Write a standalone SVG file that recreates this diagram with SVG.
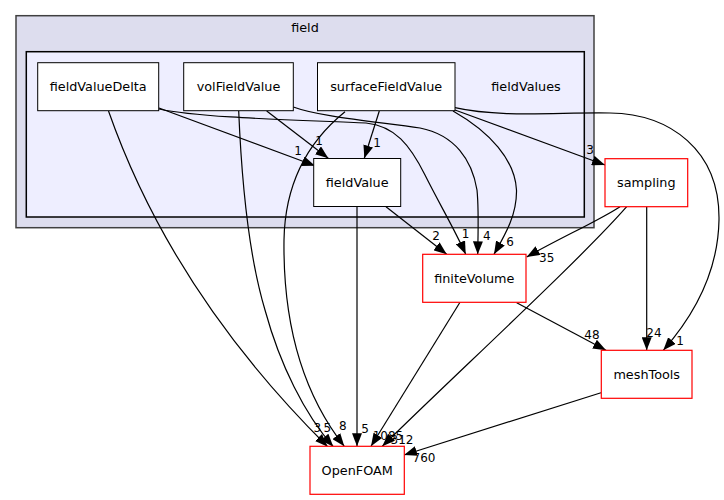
<svg xmlns="http://www.w3.org/2000/svg" width="724" height="500" viewBox="0 0 724 500">
<style>
  text { font-family: "DejaVu Sans", "Liberation Sans", sans-serif; fill: #000; }
  .nl { font-size: 12.8px; text-anchor: middle; }
  .el { font-size: 12px; text-anchor: middle; }
  .n { fill: #fff; stroke: #000; stroke-width: 1; }
  .r { fill: #fff; stroke: #ff0000; stroke-width: 1.2; }
  .e { fill: none; stroke: #000; stroke-width: 1.2; marker-end: url(#ah); }
</style>
<defs>
  <marker id="ah" markerUnits="userSpaceOnUse" markerWidth="13" markerHeight="10" refX="13" refY="5" orient="auto">
    <path d="M0,0 L13,5 L0,10 z" fill="#000"/>
  </marker>
</defs>
<rect width="724" height="500" fill="#fff"/>
<g id="cluster_field">
  <rect x="16" y="15.7" width="578" height="212" fill="#ddddee" stroke="#404040" stroke-width="1.5"/>
  <text class="nl" x="305" y="31.5">field</text>
</g>
<g id="cluster_fieldValues">
  <rect x="26.3" y="51.7" width="558" height="165.3" fill="#eeeeff" stroke="#000" stroke-width="1.5"/>
  <text class="nl" x="526" y="90.5">fieldValues</text>
</g>
<g id="edges">
  <path class="e" d="M159,108 L315,165.7"/>
  <path class="e" d="M159,109 C200,118 300,120 366,123 C395,126 410,145 425,175 C440,205 455,230 465.7,254.3"/>
  <path class="e" d="M108.5,111 C145,215 210,330 327.7,446.7"/>
  <path class="e" d="M266.7,111 L328.3,158.3"/>
  <path class="e" d="M293.3,107 C320,117 380,122 420,128 C455,135 472,160 477,190 C479,210 478,235 477.7,254.3"/>
  <path class="e" d="M238.7,111 C242,190 250,260 265,310 C280,365 305,415 333.3,446.7"/>
  <path class="e" d="M379.3,111 L364.3,158.3"/>
  <path class="e" d="M453,111 C490,132 515,160 516.5,190 C517,215 505,235 494,254.3"/>
  <path class="e" d="M455,110 L605,165"/>
  <path class="e" d="M455,107.7 C500,118 560,112 610,113 C670,114 720,150 719,220 C718,275 690,320 663.3,350.3"/>
  <path class="e" d="M345,111.7 C310,140 285,180 284,240 C283,320 300,390 344.3,446.3"/>
  <path class="e" d="M386,206.7 L446.7,254.3"/>
  <path class="e" d="M357,206.5 L357,446.3"/>
  <path class="e" d="M620,206.7 C600,220 560,238 526.7,257"/>
  <path class="e" d="M646.7,206.7 L646.7,350.3"/>
  <path class="e" d="M626.7,206.7 C580,260 460,370 382.3,446.3"/>
  <path class="e" d="M516.7,302.7 L606,350.3"/>
  <path class="e" d="M460,302.3 L371,446.3"/>
  <path class="e" d="M601,392.7 L404,455"/>
  <text class="el" x="298" y="155">1</text>
  <text class="el" x="319" y="144.5">1</text>
  <text class="el" x="377" y="147">1</text>
  <text class="el" x="436" y="240">2</text>
  <text class="el" x="465.5" y="237.5">1</text>
  <text class="el" x="486.7" y="240">4</text>
  <text class="el" x="510" y="246">6</text>
  <text class="el" x="546.7" y="262">35</text>
  <text class="el" x="590" y="154">3</text>
  <text class="el" x="592" y="338.5">48</text>
  <text class="el" x="654" y="336.5">24</text>
  <text class="el" x="680" y="345">1</text>
  <text class="el" x="317.3" y="431.5">3</text>
  <text class="el" x="327.3" y="431.5">5</text>
  <text class="el" x="342.7" y="430">8</text>
  <text class="el" x="365" y="432.5">5</text>
  <text class="el" x="388" y="439.5">1085</text>
  <text class="el" x="402" y="444">312</text>
  <text class="el" x="424" y="461.5">760</text>
</g>
<g id="fieldValueDelta">
  <rect class="n" x="37.7" y="62.7" width="121" height="48"/>
  <text class="nl" x="98.2" y="91.3">fieldValueDelta</text>
</g>
<g id="volFieldValue">
  <rect class="n" x="183.7" y="62.7" width="109.6" height="48"/>
  <text class="nl" x="238.5" y="91.3">volFieldValue</text>
</g>
<g id="surfaceFieldValue">
  <rect class="n" x="317.5" y="62.7" width="137.5" height="48"/>
  <text class="nl" x="386.2" y="91.3">surfaceFieldValue</text>
</g>
<g id="fieldValue">
  <rect class="n" x="313.7" y="158.5" width="87" height="48"/>
  <text class="nl" x="357.2" y="187">fieldValue</text>
</g>
<g id="sampling">
  <rect class="r" x="605" y="158.7" width="82.7" height="48"/>
  <text class="nl" x="646.3" y="187.3">sampling</text>
</g>
<g id="finiteVolume">
  <rect class="r" x="422.7" y="254.3" width="103.3" height="48"/>
  <text class="nl" x="474.3" y="283">finiteVolume</text>
</g>
<g id="meshTools">
  <rect class="r" x="601.3" y="350.3" width="90.7" height="48"/>
  <text class="nl" x="646.7" y="379">meshTools</text>
</g>
<g id="OpenFOAM">
  <rect class="r" x="310" y="446.3" width="94.3" height="48"/>
  <text class="nl" x="357.2" y="475">OpenFOAM</text>
</g>
</svg>
